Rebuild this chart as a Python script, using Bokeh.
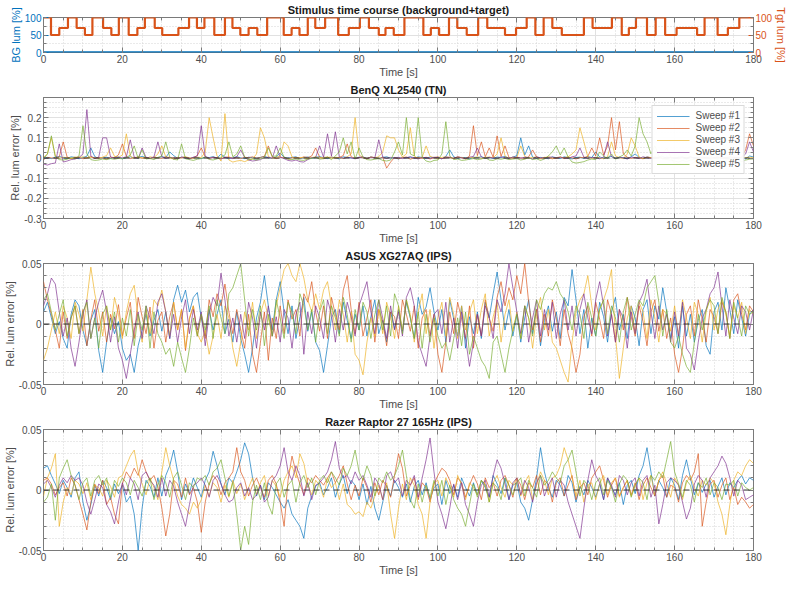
import numpy as np

from bokeh.embed import file_html
from bokeh.layouts import column
from bokeh.models import CustomJSTickFormatter, FixedTicker, Legend, LegendItem, LinearAxis, Span
from bokeh.plotting import figure
from bokeh.resources import INLINE

FONT = "Liberation Sans"
W = 790
TXT = "#4d4d4d"
BOX = "#7a7a7a"
BLUE, ORANGE = "#0072BD", "#D95319"
SWEEP_COLORS = ["#0072BD", "#D95319", "#EDB120", "#7E2F8E", "#77AC30"]

# --- stimulus: target steps (start time [s], level [%]) and background
stim_start = [0, 1.9, 4, 6.2, 8.4, 10.5, 12.4, 15.1, 17.2, 19.1,
              21.6, 23.8, 25.7, 28.2, 30.1, 34.2, 36.9, 38.9, 40.8, 43.3,
              46, 47.9, 49.9, 52, 54.2, 56.7, 60.9, 62.9, 64.9, 67,
              68.9, 71.4, 74.7, 77.4, 80.2, 82.5, 85, 86.7, 88.8, 91.5,
              96.3, 98.2, 100.3, 102.8, 104.9, 107.3, 110.2, 112.5, 117, 119.8,
              122.5, 124.7, 126.8, 129, 131.4, 137, 139.2, 144.1, 146.6, 148.4,
              150.2, 153, 155.2, 157.6, 160.5, 165.7, 167.6, 170.9, 173.5, 176.4]
stim_level = [100, 50, 70, 100, 70, 50, 100, 70, 50, 100,
              50, 70, 100, 70, 50, 70, 100, 70, 100, 50,
              100, 70, 50, 70, 50, 100, 50, 70, 50, 100,
              70, 100, 50, 70, 100, 70, 50, 70, 50, 100,
              50, 70, 50, 100, 70, 50, 100, 70, 50, 70,
              100, 50, 100, 70, 50, 100, 70, 100, 50, 70,
              100, 50, 100, 50, 70, 50, 100, 50, 70, 100]
bg_time = [0, 180]
bg_lum = [0, 0]

# --- relative luminance error per sweep, sampled every second, in 0.001 %
time_s = list(range(181))

benq_1 = [5, 2, -3, 4, 8, 1, -2, 6, 3, -4,
          2, 9, 50, 7, -3, 1, 4, -2, 3, 5,
          -4, 2, 6, -1, 3, 8, 2, -3, 4, 1,
          6, 3, 30, 12, -2, 4, 1, -5, 3, 2,
          -3, 5, 2, 7, -1, 20, 3, -4, 2, 6,
          1, -3, 4, 2, -6, 3, 8, 1, -2, 5,
          25, 4, -1, 3, 6, -4, 2, 5, -2, 3,
          7, 1, -3, 4, 2, -5, 6, 3, 1, -2,
          4, 2, -3, 5, 1, -4, 3, 6, -1, 2,
          -5, 3, 1, 4, -2, 6, 2, -3, 5, 1,
          3, -4, 8, 40, 6, -2, 3, 1, -5, 4,
          2, 6, -1, 3, -3, 5, 2, 8, -2, 4,
          12, 100, 15, 60, 4, -2, 3, 1, -4, 5,
          2, -3, 6, 1, -5, 3, 4, -2, 7, 2,
          30, 5, -1, 3, 8, -2, 4, 1, -3, 6,
          20, 3, -2, 5, 1, -4, 3, 7, -1, 2,
          -3, 4, 2, -5, 6, 1, -2, 3, 5, -1,
          20, 4, -3, 2, 6, -1, 3, 1, -4, 10,
          5]
benq_2 = [-8, 3, 1, -2, 6, 80, 4, -3, 2, 5,
          -4, 1, 7, -2, 3, 0, -5, 4, 2, 15,
          70, 8, -3, 2, 5, -1, 4, -4, 3, 1,
          -2, 6, 2, -5, 3, 1, 4, -3, 2, 12,
          50, 6, -2, 4, 1, -4, 3, 5, -1, 2,
          -3, 4, 1, 6, -2, 3, 8, 60, 5, -3,
          2, 4, -5, 1, 3, -2, 6, 2, 10, 50,
          4, -3, 2, 5, -1, 3, 12, 70, 6, -2,
          3, 1, -4, 5, 2, -3, 4, -50, -20, 3,
          -4, 2, 5, -6, 1, 3, -2, 4, -5, 2,
          6, -3, 1, 4, -2, 5, 2, -4, 10, 160,
          12, 80, 6, 50, 4, 110, 8, 60, 3, -2,
          4, 1, -3, 6, 40, 5, -2, 3, 1, -4,
          2, 5, -3, 4, 1, -5, 3, 2, 8, 50,
          10, 100, 15, 60, 200, 40, 180, 20, 4, -2,
          3, 1, -4, 5, 2, -3, 6, 1, -2, 4,
          2, -5, 3, 1, 6, -2, 4, -3, 2, 5,
          -1, 3, 2, -4, 6, 1, -2, 5, 40, 120,
          60]
benq_3 = [3, 20, 100, 10, -2, 4, 1, -3, 5, 2,
          6, -1, 3, 2, -4, 5, 12, 50, 8, 3,
          15, 120, 10, -2, 4, 1, -3, 6, 2, 20,
          60, 5, -1, 3, -4, 2, 6, 1, -2, 4,
          2, 30, 200, 100, 10, -15, 220, -10, -20, -15,
          -12, -18, -10, -5, 20, 150, 100, 8, -3, 4,
          10, 80, 60, 5, -2, 3, 1, -4, 2, 6,
          -1, 3, 5, -2, 4, 1, -3, 6, 20, 200,
          15, 3, -2, 4, 1, 6, 30, 110, 100, 100,
          40, 5, 20, 150, 10, -3, 4, 60, 8, 2,
          -4, 3, 6, 1, -2, 5, 2, -3, 4, 1,
          6, -2, 3, 5, 1, 20, 100, 10, -3, 4,
          2, 60, 8, -1, 3, 5, -4, 2, 6, 1,
          -3, 4, 2, 6, 20, 40, 150, 80, 5, -2,
          3, 1, -4, 6, 80, 10, 2, -3, 20, 100,
          60, 5, -2, 3, 1, 6, -3, 20, 50, 4,
          -30, -25, -30, -28, -32, -20, -5, 3, 1, -2,
          4, 2, -3, 5, 1, 6, -2, 3, 2, 4,
          1]
benq_4 = [-30, -35, -28, -25, 70, -20, -15, -8, -5, 2,
          20, 240, 10, -3, 4, 100, 100, 5, -2, 3,
          1, 6, 90, 4, -3, 50, 2, -1, 5, 80,
          6, -2, 3, 1, -4, 5, 2, -3, 4, 10,
          160, 8, -2, 3, 1, -5, 4, 2, -3, 6,
          40, 3, -10, -15, -12, -8, 2, 4, -1, 60,
          5, -3, -12, -15, -10, -18, -20, -8, 2, 3,
          60, 4, 120, 10, 130, 5, -2, 3, 1, -4,
          2, 6, -3, 4, 1, 90, 5, -2, 3, -1,
          4, -3, 2, 6, 1, -5, 3, 2, -2, 4,
          1, -4, 5, 3, -2, 6, 1, -3, 4, 8,
          50, 5, -2, 3, 1, -4, 6, 2, -3, 5,
          3, -1, 4, 2, -5, 6, 1, -2, 3, 5,
          -2, 4, 1, -3, 6, 10, 50, 4, -2, 3,
          1, -4, 5, 80, 6, -2, 3, 1, -5, 4,
          2, -3, 6, 1, -2, 4, 3, -4, 5, 2,
          -1, 3, 6, -2, 4, 1, -3, 5, 2, -4,
          3, 6, -1, 2, -5, 4, 1, 3, 20, 80,
          30]
benq_5 = [-5, 20, 110, 5, -8, -10, -6, 2, -4, 10,
          160, 20, -8, -12, -10, -5, -8, -3, -6, -2,
          -4, 2, 15, 60, -3, 40, -5, -2, -8, 3,
          10, 80, 5, -6, -10, 70, -4, -8, -12, -6,
          -3, 5, -7, -10, -4, 2, 15, 80, 6, 20,
          60, 4, -8, -5, -10, -3, 2, 50, 8, 10,
          50, 3, -6, -8, -4, -10, -12, -5, -2, 4,
          -6, -3, 5, -8, 10, 30, 100, 20, 80, -5,
          50, 4, -8, -10, -6, -3, -12, -15, -10, 30,
          80, 15, 200, 20, 10, 200, 5, -15, -20, -12,
          -10, 20, 180, 10, -8, -5, -12, -10, -6, -3,
          -8, -5, 2, -10, -12, -4, -6, -2, -8, -5,
          -3, -10, -6, 2, -8, -4, -12, -5, 10, 30,
          60, 15, 50, 5, -20, -25, -22, -18, -10, -5,
          -8, 30, 10, -3, 20, -6, 5, 15, 40, 10,
          60, 200, 120, 80, 20, 60, 10, -5, -8, -10,
          -15, -20, -12, -18, -10, -8, -15, -12, -20, -10,
          -12, -8, -15, -10, -5, -12, -8, -18, -10, -6,
          -5]

asus_1 = [10, 18, 5, -8, 2, -12, -20, 8, 20, 15,
          -5, -18, 3, 12, -22, -40, -15, 5, -8, 2,
          -20, -30, -25, -40, -18, -5, 8, -10, 3, 12,
          -6, 10, -12, 20, 32, 18, 28, 10, 22, 26,
          5, -10, 12, -5, 8, 20, -8, 4, -15, 10,
          -12, -25, -40, -20, 5, 18, 40, 15, -5, 20,
          35, 10, -8, 15, -12, 5, 22, -6, 10, -15,
          -22, -40, -18, 5, 12, -8, 18, 3, -12, 8,
          -5, 15, -10, 6, 20, -8, 3, -15, 10, -4,
          12, -6, 18, 5, -12, 22, 8, 14, 30, 10,
          -5, 12, -15, 20, 4, -10, 15, -20, 6, -8,
          10, -12, 18, 5, 25, 43, 20, -5, 12, -10,
          8, -15, 5, 20, -8, 12, -18, 3, 15, -6,
          10, -12, 22, 15, 45, 20, -8, 12, -20, 5,
          -10, 18, 6, -15, 10, 22, -5, 8, -12, 15,
          5, -18, 12, 20, -8, 15, 4, 30, 10, -12,
          6, -20, 15, -10, 8, -15, 3, 12, -18, -25,
          10, 18, -5, 30, 12, -8, 20, 5, -10, 8,
          12]
asus_2 = [35, 20, 8, -5, -20, 10, -12, 5, 15, -8,
          12, -18, 4, 20, -6, 10, -15, 8, -4, 16,
          -10, 5, 18, -12, 22, 6, -8, 14, -20, 3,
          10, -15, 6, 18, -5, 12, -22, 4, 15, -10,
          8, -12, 20, 6, 25, 15, 33, 10, -8, 12,
          -5, -20, 8, -25, -40, -15, 10, -30, 5, -12,
          15, -8, 20, 4, 12, -10, 25, 18, 35, 10,
          -6, 15, -12, 22, 8, -5, 28, 40, 12, -8,
          18, -10, 5, 20, -15, 12, 2, -18, 10, 6,
          -12, 20, 8, -6, 15, -20, 5, 12, -10, 8,
          -25, -40, -15, 10, -8, 18, 4, -12, 15, -20,
          8, -10, 20, 5, -6, 22, 35, 15, 30, 20,
          40, 25, 50, 18, -5, 12, -15, 8, -10, 20,
          5, -18, 12, -8, -20, -40, -25, 6, 15, -10,
          18, 4, -12, 20, 8, -15, 12, -5, 22, 6,
          -10, 15, 2, -18, 10, 20, -6, 12, -12, 5,
          -25, -40, -20, 8, 15, -10, 20, 4, -15, 12,
          6, -8, 18, 10, -12, 20, 25, 8, -5, 15,
          10]
asus_3 = [-30, -20, -5, 10, -8, 15, 5, -12, 18, 8,
          -6, 20, 47, 25, 10, -10, 15, -5, 22, 8,
          -12, 10, 25, 32, 5, -15, 12, -8, 20, 15,
          28, 10, -10, 18, -5, 12, -20, 5, 15, -8,
          -15, -5, -25, -10, 8, -12, 15, 5, -20, -35,
          -15, 10, -5, 18, -12, 8, 20, 5, -10, 15,
          30, 45, 50, 40, 35, 50, 38, 20, 10, 25,
          12, 28, 35, 15, -5, 20, 8, -15, 10, -25,
          -30, -42, -15, 5, -10, 12, -8, 18, 6, -12,
          15, -5, 20, 8, -15, 10, 25, -8, 12, -20,
          5, 18, -10, 22, 8, -12, 15, -5, 10, 20,
          -8, 12, 25, -10, 6, 18, -15, 8, 20, -6,
          10, -12, 15, 5, -20, 8, 22, -5, 12, -15,
          -20, -30, -40, -48, -15, 10, 20, 25, 40, 15,
          -5, 12, 20, 30, 45, -10, -45, -20, 5, 15,
          -8, 18, 10, -12, 20, 5, -15, 12, 8, -6,
          15, -10, 20, 5, -12, 18, 8, -15, 10, 22,
          -5, 12, 20, 8, -10, 15, 5, 18, -8, 12,
          8]
asus_4 = [15, 25, 38, 33, 10, -10, 5, -20, -35, -15,
          8, 20, -12, 5, 18, 28, 10, -15, 6, -20,
          -30, -45, -25, -5, 10, -12, 15, 5, -8, 18,
          25, 10, -12, 8, -15, 5, 20, -8, 12, -5,
          10, -18, 8, 22, 15, 42, 20, -10, 5, -15,
          8, -12, 18, 5, -20, 10, -5, 15, -10, 6,
          -15, 12, 5, -20, 8, 18, -25, 10, -8, 15,
          5, -12, 20, 8, -15, 12, -5, 18, 6, -10,
          15, 25, 35, 10, -8, 20, 5, -12, 15, -5,
          10, -10, 22, 30, 15, -15, -25, -35, -10, 8,
          12, -8, 18, -15, 5, -20, 10, -12, -35, -15,
          8, -10, 15, 5, -12, 20, 10, 25, 50, 30,
          10, -8, 15, -15, 5, 20, -10, 12, -5, 18,
          -12, 8, 20, -5, 15, -10, 12, 25, 5, -8,
          20, 35, 15, -10, 8, -15, 12, 5, -20, 10,
          -8, 18, 25, 37, 10, -12, 15, -5, 8, -15,
          10, -10, 18, -20, -25, -38, -15, 5, 12, 25,
          30, 43, 15, -10, 20, 5, -8, 15, 10, -5,
          12]
asus_5 = [20, 25, 10, -5, 8, 20, -10, 5, 15, -8,
          10, 18, -12, 5, -20, 8, 15, -5, 10, -15,
          5, -10, 12, -18, 8, -5, 15, -20, 10, -8,
          -15, -25, -20, -35, -15, -28, -40, -20, 5, -10,
          8, -5, 15, -12, 20, 5, -8, 25, 30, 40,
          50, 20, -10, 12, -5, 15, -18, 8, -10, 20,
          5, -12, 18, 10, -8, 25, 15, -5, 12, -15,
          10, 20, -8, 15, 5, -10, 22, 8, -15, 12,
          -5, 18, 10, -12, 8, 20, -5, 15, -10, 25,
          15, -8, 20, 5, -12, 10, -20, 8, -15, 5,
          -10, -20, -15, -30, -12, 5, -18, 10, -25, -10,
          -20, -30, -35, -45, -15, -10, -25, -40, -20, -5,
          8, -12, 15, 5, -10, 20, 12, 25, 30, 28,
          35, 25, 20, 10, -5, 15, 8, -12, 18, 5,
          -10, 12, 20, -8, 15, 5, -15, 10, 22, -5,
          8, 20, 15, 30, 35, 40, 18, -10, 12, -15,
          -20, -10, -25, -35, -40, -15, 8, -5, 12, 20,
          15, -8, 22, 10, -12, 18, 5, -10, 15, 8,
          10]

razer_1 = [18, 20, 12, 5, -3, 8, 2, -6, 10, 15,
           -10, -25, -12, 4, -5, 8, 2, -8, 5, -3,
           4, -10, -5, -20, -50, -15, 8, 3, -6, 10,
           -5, 12, 20, 33, 15, -8, 5, -3, 10, 2,
           -6, 8, 15, 32, 20, 5, -4, 10, 6, 15,
           25, 39, 30, 10, -5, 4, -8, 6, 2, -4,
           -10, -15, -8, -20, -25, -30, -40, -15, -5, 3,
           6, -4, 2, 10, -6, 5, 12, -3, 8, 4,
           -8, 5, -12, 3, -15, -25, -10, 4, -5, 8,
           2, -6, 5, -10, 3, 8, -4, 6, -8, 2,
           5, -12, 8, -3, 4, -6, 10, 2, -5, 6,
           -4, 8, 2, -6, 12, 5, -3, 10, -8, 4,
           6, -10, -15, -25, -8, 10, 35, 15, 2, -6,
           8, 4, -5, 12, 6, -10, 3, -4, 8, 2,
           -6, 5, -8, 10, 2, -4, 6, -12, 4, 8,
           -3, 12, 20, 35, 15, -5, 8, 2, -6, 10,
           4, -8, 12, 25, 10, -4, 6, -2, 5, 8,
           -6, 3, 10, -4, 6, 2, 8, 12, 5, 10,
           8]
razer_2 = [8, 10, 5, -4, 2, 6, -5, 10, 4, -8,
           -20, -33, -10, 5, -3, 8, -12, -6, -20, -28,
           5, 15, 10, 18, 12, 25, 15, 8, 12, 3,
           -15, -38, -20, 8, 5, -6, 10, -4, 2, -10,
           -35, -10, 5, 12, 8, -4, 6, 10, 15, 35,
           15, 8, -5, 4, 10, 2, -6, 8, 12, 5,
           -10, -30, 8, 28, 15, 5, -4, 10, 6, 12,
           8, 4, 10, 15, 6, 12, 20, 5, -8, 4,
           -5, 10, 2, -10, 6, -4, 8, 3, -6, 12,
           30, 18, -5, 4, 10, -8, 6, 2, -10, 5,
           12, 18, 15, 8, -4, 10, 6, -6, 4, 12,
           5, -8, 10, 2, 6, -5, 8, 12, 4, -6,
           10, 4, -8, 6, 2, 12, -4, 8, 5, -10,
           6, 10, -5, 4, 12, -8, 2, 6, -4, 10,
           15, 20, 8, -6, 4, 10, -5, 2, 8, -4,
           6, -8, 4, 10, 2, -5, 8, 12, -6, 4,
           2, -10, 6, 12, 8, 15, 30, -30, -10, 5,
           8, -6, 4, 10, -8, 2, -12, -6, -10, -15,
           -12]
razer_3 = [-5, 10, 18, 30, -30, -10, 2, -4, 8, 5,
           -3, 6, -8, 4, 2, -5, 8, 3, -6, 10,
           12, 20, 28, 33, 15, 5, -4, 10, 2, -8,
           15, 35, 20, 8, -5, -12, -15, -20, -10, -15,
           -8, 4, -5, 6, 2, -10, 4, -6, 8, -3,
           5, -8, 2, 10, -4, 6, 12, -5, 8, 3,
           -6, 8, 15, 20, 10, 30, 22, 5, -4, 8,
           4, -6, 10, 2, 6, -8, 5, -12, -15, -20,
           -18, -22, -10, -15, -5, 4, -8, 6, -20, -40,
           -15, 5, -8, 10, 4, -12, -20, -40, -10, 6,
           8, -5, 10, 3, -6, 12, 4, -8, 6, 2,
           -4, 8, 5, -10, 6, 12, 2, -6, 8, 4,
           10, -5, 6, 12, -8, 4, 15, 8, -4, 10,
           12, 20, 35, 25, 10, -5, 8, -10, 4, 6,
           -8, 5, 12, -4, 6, 10, -6, 2, 8, -5,
           4, 10, -8, 6, 12, -4, 8, 15, 5, -6,
           10, 4, -8, 6, 12, 2, -5, 8, 4, 10,
           6, -10, -20, -37, -12, 8, 15, 12, 20, 25,
           22]
razer_4 = [5, 8, 2, -6, 4, 10, 6, 12, 8, 10,
           4, -10, -20, -8, 5, 2, -12, -18, -28, -10,
           6, -4, 10, 5, -8, 12, 15, 8, 4, -6,
           10, -5, 8, 3, -10, -20, -30, -12, 4, 6,
           10, 4, -6, 8, 12, 5, -4, -10, -8, 2,
           6, -5, 2, -8, -4, 4, -10, -6, 8, 12,
           20, 35, 15, 8, 20, 12, -5, 6, -8, 4,
           6, 10, 15, 25, 40, 18, 10, 12, 5, 15,
           8, 12, 4, -6, 10, 5, -8, 12, 15, 6,
           10, -5, 8, 4, 12, -6, 10, 25, 43, 15,
           -10, -20, -32, -15, 5, -8, 6, -12, -20, -30,
           -10, 4, 8, -6, 12, 25, 18, 5, -8, 6,
           10, -4, 8, 2, -10, 6, 12, -5, 4, 10,
           -6, 8, 4, -10, -20, -30, -40, -15, 8, 25,
           12, 6, -8, 10, 4, -6, 12, 8, -4, 6,
           10, -5, 8, 12, -6, 4, -28, -12, 6, 10,
           8, 4, -10, -24, -15, 5, 12, 8, -6, 10,
           15, 20, 28, 22, 10, -5, 8, 4, -8, -6,
           -4]
razer_5 = [-10, -6, 5, -25, 10, 18, 25, 12, 4, -8,
           6, 10, -5, 8, 12, 4, 10, -6, 8, 3,
           10, 6, -4, 8, 2, -5, 6, 10, -8, 4,
           12, 6, -6, 10, 15, 4, -8, 6, 2, 10,
           8, 12, 4, 15, 18, 25, 10, -5, 6, -20,
           -50, -30, -45, -10, 4, -8, 6, -12, -20, 5,
           10, -6, 4, 8, -10, 6, 12, 2, 10, -4,
           8, 12, 6, 15, 10, 4, 18, 12, 20, 33,
           15, 8, 20, 12, -5, 10, 6, 15, 8, 12,
           20, 33, 12, -8, -15, 5, -10, 4, -6, 8,
           -5, 8, -12, 4, -8, -15, -20, -30, -12, 5,
           -6, 8, 4, -10, 6, 2, -8, 10, 4, -4,
           6, 10, -5, 8, 2, -6, 12, 4, 8, 15,
           10, 6, 20, 25, 33, 15, -5, 8, 4, -8,
           6, 10, -4, 8, 2, -10, 5, 12, 8, -6,
           4, 10, 6, -8, 12, 8, 15, 10, 25, 40,
           15, 5, -6, 8, 4, -10, 6, 2, 10, -4,
           6, 2, -8, 5, 4, 8, -5, 6, 2, 0,
           2]

panels = [
    ("BenQ XL2540 (TN)", [benq_1, benq_2, benq_3, benq_4, benq_5],
     (-0.3, 0.3), [-0.3, -0.2, -0.1, 0, 0.1, 0.2], 0.025),
    ("ASUS XG27AQ (IPS)", [asus_1, asus_2, asus_3, asus_4, asus_5],
     (-0.05, 0.05), [-0.05, 0, 0.05], 0.01),
    ("Razer Raptor 27 165Hz (IPS)", [razer_1, razer_2, razer_3, razer_4, razer_5],
     (-0.05, 0.05), [-0.05, 0, 0.05], 0.01),
]
for _, sweeps, _, _, _ in panels:
    for s in sweeps:
        assert len(s) == len(time_s), len(s)

X_TICKS = list(range(0, 181, 20))
X_MINOR = list(range(0, 181, 5))


def style_axis(ax, color=TXT):
    ax.axis_line_color = None
    ax.major_tick_in = 5
    ax.major_tick_out = 0
    ax.minor_tick_in = 3
    ax.minor_tick_out = 0
    ax.major_tick_line_color = BOX
    ax.minor_tick_line_color = BOX
    ax.major_label_text_font = FONT
    ax.major_label_text_font_size = "10px"
    ax.major_label_text_line_height = 1.0
    ax.major_label_text_color = color
    ax.major_label_standoff = 2
    ax.axis_label_text_font = FONT
    ax.axis_label_text_font_size = "11px"
    ax.axis_label_text_line_height = 1.0
    ax.axis_label_text_font_style = "normal"
    ax.axis_label_text_color = color
    ax.axis_label_standoff = 0


def box_ticks(ticker):
    # tick marks on the opposite side of the box, no labels
    ax = LinearAxis(ticker=ticker)
    style_axis(ax)
    ax.major_label_text_font_size = "1px"
    ax.major_label_text_color = None
    ax.major_label_standoff = 0
    return ax


def make_fig(title, height, y_range, yticks, yminor):
    p = figure(width=W, height=height, x_range=(0, 180), y_range=y_range,
               title=title, output_backend="svg", toolbar_location=None,
               min_border_left=34, min_border_right=26,
               min_border_top=0, min_border_bottom=0)
    p.title.align = "center"
    p.title.text_font = FONT
    p.title.text_font_size = "11px"
    p.title.text_font_style = "bold"
    p.title.text_color = "#1a1a1a"
    if hasattr(p.title, "standoff"):
        p.title.standoff = 3
    xt = FixedTicker(ticks=X_TICKS, minor_ticks=X_MINOR)
    yt = FixedTicker(ticks=yticks, minor_ticks=yminor)
    p.xaxis.ticker = xt
    p.yaxis.ticker = yt
    p.xgrid.ticker = xt
    p.ygrid.ticker = yt
    for g in (p.xgrid, p.ygrid):
        g.grid_line_color = "#e1e1e1"
        g.minor_grid_line_color = "#d4d4d4"
        g.minor_grid_line_dash = "1 2"
    p.outline_line_color = BOX
    p.xaxis.axis_label = "Time [s]"
    p.yaxis.formatter = CustomJSTickFormatter(code="return String(Math.round(tick * 1000) / 1000);")
    style_axis(p.xaxis[0])
    style_axis(p.yaxis[0])
    p.add_layout(box_ticks(xt), "above")
    return p, xt, yt


# --- stimulus panel
p1, xt1, yt1 = make_fig("Stimulus time course (background+target)", 80, (0, 100),
                        [0, 50, 100], list(range(0, 101, 25)))
p1.step(stim_start + [180], stim_level + [stim_level[-1]], mode="after",
        line_color=ORANGE, line_width=2.2)
p1.line(bg_time, bg_lum, line_color=BLUE, line_width=2.6)
p1.yaxis[0].axis_label = "BG lum [%]"
style_axis(p1.yaxis[0], BLUE)
p1.yaxis[0].major_tick_line_color = BLUE
right = LinearAxis(ticker=yt1, axis_label="Tgt lum [%]")
style_axis(right, ORANGE)
right.major_tick_line_color = ORANGE
p1.add_layout(right, "right")

figs = [p1]
for title, sweeps, yr, yticks, ystep in panels:
    n = int(round((yr[1] - yr[0]) / ystep))
    yminor = [round(yr[0] + i * ystep, 4) for i in range(n + 1)]
    p, xt, yt = make_fig(title, 166, yr, yticks, yminor)
    p.yaxis[0].axis_label = "Rel. lum error [%]"
    p.add_layout(box_ticks(yt), "right")
    renderers = []
    for k, s in enumerate(sweeps):
        r = p.line(time_s, np.array(s) / 1000.0, line_color=SWEEP_COLORS[k],
                   line_width=0.8, line_alpha=0.85)
        renderers.append(r)
    p.add_layout(Span(location=0, dimension="width", line_color="#262626",
                      line_width=0.9, line_dash="6 4"))
    if title.startswith("BenQ"):
        legend = Legend(items=[LegendItem(label="Sweep #%d" % (k + 1), renderers=[r])
                               for k, r in enumerate(renderers)],
                        location="top_right")
        legend.label_text_font = FONT
        legend.label_text_font_size = "10px"
        legend.label_text_color = TXT
        legend.glyph_width = 33
        legend.glyph_height = 10
        legend.label_height = 10
        legend.label_standoff = 6
        legend.spacing = 1
        legend.padding = 4
        legend.margin = 8
        legend.border_line_color = "#b5b5b5"
        p.add_layout(legend)
    figs.append(p)

layout = column(*figs)
open("out.html", "w").write(file_html(layout, INLINE))
